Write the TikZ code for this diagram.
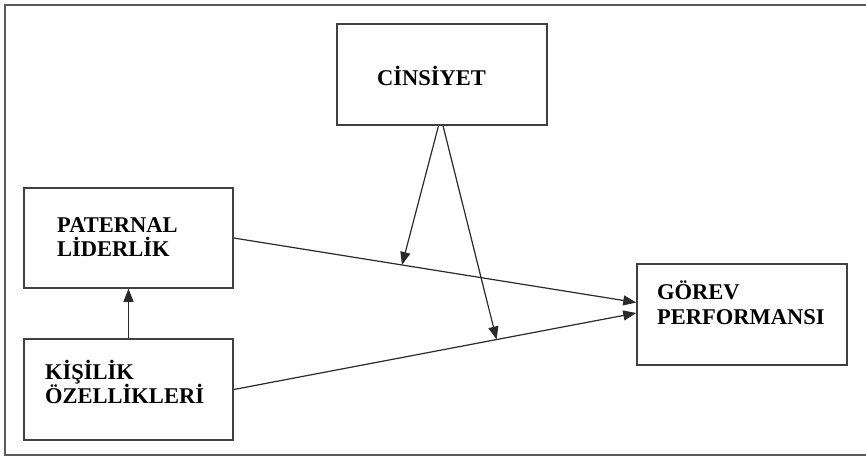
\documentclass[tikz,border=0pt]{standalone}
\usepackage{fontspec}
\setmainfont{Liberation Serif}
\usetikzlibrary{arrows.meta,calc}

\definecolor{boxline}{HTML}{404040}
\definecolor{arrowline}{HTML}{2A2A2A}
\definecolor{frameline}{HTML}{5A5A5A}

\tikzset{
  varbox/.style={draw=boxline, line width=1.5pt, rectangle, inner sep=0pt},
  vartext/.style={anchor=base west, inner sep=0pt, text=black, font=\fontsize{22.5}{24}\selectfont\bfseries},
  link/.style={draw=arrowline, line width=1.2pt, -{Triangle[length=13pt,width=10pt]}},
}

\begin{document}
\begin{tikzpicture}[x=1pt, y=-1pt]
  \useasboundingbox (0,0) rectangle (866,459);

  % outer frame (open on the right)
  \draw[frameline, line width=2pt] (872,5) -- (5,5) -- (5,455) -- (872,455);

  % variable boxes
  \node[varbox, minimum width=210pt, minimum height=101pt] (cin) at (442,74.5) {};
  \node[varbox, minimum width=209pt, minimum height=100pt] (pat) at (128.5,238) {};
  \node[varbox, minimum width=209pt, minimum height=101pt] (kis) at (128.5,389.5) {};
  \node[varbox, minimum width=210pt, minimum height=101pt] (gor) at (742,314.5) {};

  % labels
  \node[vartext] (cinA) at (377,85) {CİNSİYET};
  \node[vartext] (patA) at (57,232) {PATERNAL};
  \node[vartext] (patB) at (57,256) {LİDERLİK};
  \node[vartext] (kisA) at (45,379) {KİŞİLİK};
  \node[vartext] (kisB) at (45,403) {ÖZELLİKLERİ};
  \node[vartext] (gorA) at (657,299) {GÖREV};
  \node[vartext] (gorB) at (657,324) {PERFORMANSI};

  % end points of the direct paths
  \coordinate (patOut) at (pat.east);
  \coordinate (gorInA) at ($(gor.west)+(0,-12)$);
  \coordinate (kisOut) at (kis.east);
  \coordinate (gorInB) at ($(gor.west)+(0,-1.5)$);

  % moderator targets on the direct paths
  \coordinate (modA) at ($(patOut)!0.418!(gorInA)$);
  \coordinate (modB) at ($(kisOut)!0.653!(gorInB)$);
  \coordinate (cinOutA) at ($(cin.south)+(-3.5,0)$);
  \coordinate (cinOutB) at ($(cin.south)+(1,0)$);

  % connectors
  \draw[link] (patOut) -- (gorInA);
  \draw[link] (kisOut) -- (gorInB);
  \draw[link] (kis.north) -- (pat.south);
  \draw[link] (cinOutA) -- (modA);
  \draw[link] (cinOutB) -- (modB);
\end{tikzpicture}
\end{document}
